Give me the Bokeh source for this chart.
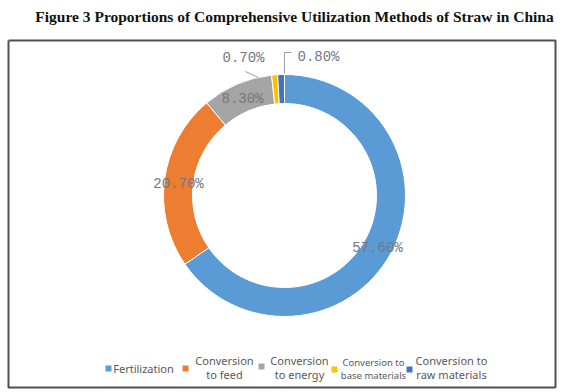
import math
from bokeh.plotting import figure
from bokeh.models import Range1d, ColumnDataSource
from bokeh.core.properties import value
from bokeh.embed import file_html
from bokeh.resources import INLINE

title = "Figure 3 Proportions of Comprehensive Utilization Methods of Straw in China"
categories = ["Fertilization", "Conversion to feed", "Conversion to energy",
              "Conversion to base materials", "Conversion to raw materials"]
values = [57.6, 20.7, 8.3, 0.7, 0.8]
labels = ["57.60%", "20.70%", "8.30%", "0.70%", "0.80%"]
colors = ["#5B9BD5", "#ED7D31", "#A5A5A5", "#FFC000", "#4472C4"]
legend_lines = [["Fertilization"], ["Conversion", "to feed"], ["Conversion", "to energy"],
                ["Conversion to", "base materials"], ["Conversion to", "raw materials"]]

W, H = 560, 390
p = figure(width=W, height=H, output_backend="svg", toolbar_location=None,
           x_range=Range1d(0, W), y_range=Range1d(-H, 0),
           min_border=0, background_fill_color="white", border_fill_color="white")
p.axis.visible = False
p.grid.visible = False
p.outline_line_color = None

# frame box
p.line([8, 555, 555, 8, 8], [-40, -40, -387, -387, -40], line_color="#505050", line_width=2)

# title
p.text(x=[294], y=[-16], text=[title], text_font=value("Liberation Serif"),
       text_font_style="bold", text_font_size="15.5px", text_align="center",
       text_baseline="middle", text_color="#111111")

# donut
cx, cy = 284, -195
total = sum(values)
starts, ends = [], []
cum = 0.0
for v in values:
    starts.append(math.pi / 2 - 2 * math.pi * cum / total)
    cum += v
    ends.append(math.pi / 2 - 2 * math.pi * cum / total)
src = ColumnDataSource(dict(start=starts, end=ends, color=colors))
p.annular_wedge(x=cx, y=cy, inner_radius=92, outer_radius=121, start_angle="start",
                end_angle="end", direction="clock", fill_color="color",
                line_color="white", line_width=1, source=src)

# data labels
lx = [377, 178, 242, 243, 318]
ly = [-247, -183, -98, -57, -56]
p.text(x=lx, y=ly, text=labels, text_font=value("Liberation Mono"), text_font_size="14px",
       text_align="center", text_baseline="middle", text_color="#737780")
# leader lines
p.line([245, 258], [-71, -77], line_color="#a0a0a0", line_width=1)
p.line([291, 284, 284], [-52, -52, -73], line_color="#a0a0a0", line_width=1)

# legend
sq_x = [108, 185, 261, 334, 409]
sq_y = [-368, -368, -366, -369, -369]
p.rect(x=sq_x, y=sq_y, width=6, height=6, fill_color=colors, line_color=None)
text_cx = [143, 224, 299, 373, 451]
sizes = ["11px", "11px", "11px", "9.5px", "11px"]
for i, lines in enumerate(legend_lines):
    if len(lines) == 1:
        ys = [-368]
    elif i == 3:
        ys = [-362, -375]
    else:
        ys = [-360, -374]
    p.text(x=[text_cx[i]] * len(lines), y=ys, text=lines, text_font=value("Noto Sans"),
           text_font_size=sizes[i], text_align="center", text_baseline="middle",
           text_color="#595959")

open("out.html", "w").write(file_html(p, INLINE))
